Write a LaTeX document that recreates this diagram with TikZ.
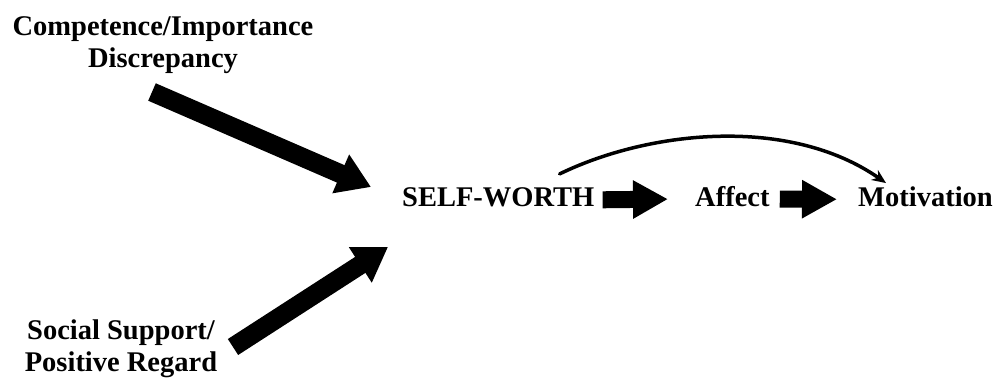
\documentclass[tikz,border=0pt]{standalone}
\usepackage{fontspec}
\setmainfont{Liberation Serif}
\usetikzlibrary{arrows.meta}

\tikzset{
  lbl/.style={inner sep=0pt, font=\bfseries\fontsize{28.5}{32}\selectfont},
  fat/.style={line width=17pt, -{Triangle[length=35pt,width=36pt]}},
  fatter/.style={line width=19pt, -{Triangle[length=33pt,width=40pt]}},
  loop/.style={line width=3.5pt, line cap=round, -{Stealth[length=14pt,width=12pt]}}
}

\begin{document}
\begin{tikzpicture}[x=1pt,y=-1pt]
\useasboundingbox (0,0) rectangle (997,381);
\node[lbl, align=center, anchor=base] (comp) at (163,67) {Competence/Importance\\Discrepancy};
\node[lbl, align=center, anchor=base] (social) at (121,371) {Social Support/\\Positive Regard};
\node[lbl, anchor=base west] (worth) at (402,206) {SELF-WORTH};
\node[lbl, anchor=base west] (affect) at (695,206) {Affect};
\node[lbl, anchor=base west] (motiv) at (858,206) {Motivation};
% the two inputs
\coordinate (comptail) at (152,92);
\coordinate (comptip) at (371,187);
\coordinate (soctail) at (233,347);
\coordinate (soctip) at (388,247);
\draw[fatter] (comptail) -- (comptip);
\draw[fatter] (soctail) -- (soctip);
% the chain
\draw[fat] ([xshift=8pt,yshift=-3pt]worth.east) -- ([xshift=-27pt,yshift=-3pt]affect.west);
\draw[fat] ([xshift=10pt,yshift=-3pt]affect.east) -- ([xshift=-21pt,yshift=-3pt]motiv.west);
\draw[loop] ([xshift=-35pt,yshift=13pt]worth.north east) .. controls (650,130) and (790,116) .. ([xshift=28pt,yshift=3pt]motiv.north west);
\end{tikzpicture}
\end{document}
